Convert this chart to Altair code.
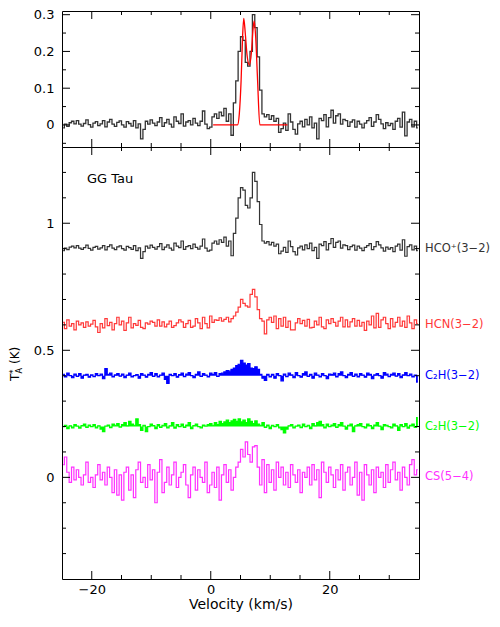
import altair as alt
import pandas as pd

FONT = "DejaVu Sans"

# channel grid (km/s): centre of first channel and channel width
V0 = -24.8
DV = 0.4

# spectra in mK (baseline removed), one value per channel, 150 channels
hco_mK = [-8, 2, -4, 6, 10, 3, 12, 2, -3, 4, 14, 1, -6,
          5, 9, -2, 3, 12, -5, 8, 15, 2, -4, 7, 11,
          0, -6, 9, 4, -3, 12, -8, 3, -38, -12, 10, 2, 14,
          5, -2, 8, 20, -4, 6, 15, 2, -6, 22, 10, 4,
          30, -3, 8, 12, 0, 18, 5, -2, 10, 38, 2, -10, -6,
          22, 30, 18, 35, 25, 45, 10, 30, -28, 60, 120, 200,
          240, 230, 170, 160, 200, 300, 265, 185, 95, 30, 22, 28, 15,
          25, 10, 18, -20, -10, 5, -15, 30, 8, -12, -25, 3,
          10, -5, 15, 0, 22, -8, 5, -38, 18, 12, 28, -5, 20,
          40, 5, 25, 30, 2, 15, 12, -4, 8, 14, -6, 10,
          2, -8, 5, 12, 20, -4, 8, 28, 15, 3, -10, 6, -2,
          4, -12, 10, 18, -6, 35, -30, 8, 15, -5, 10, -8]

hcn_mK = [10, -15, 20, -5, 5, -20, 15, 0, 8, -10, 12, -5, 3,
          18, -8, -30, 5, -12, 25, -3, 10, -20, 5, 30, 0,
          15, -22, 8, 30, -12, 5, -2, 18, -10, -15, 8, 3, 15,
          10, -5, 20, -5, 12, -8, 3, 15, -10, -3, 8, 20,
          12, -10, 5, 18, -10, -5, 25, 8, -15, 30, 5, -12, 35,
          10, 20, 18, 28, 15, 22, 30, 12, 25, 35, 50, 70,
          100, 85, 75, 70, 120, 140, 110, 60, 25, 15, -35, 20, 30,
          10, 35, -15, 25, -5, 30, -10, 15, -20, -20, 8, 25,
          5, 18, -5, 22, -12, -10, 15, 0, 30, -8, -15, 20, 5,
          25, 10, -5, 15, 30, -8, 20, -8, 12, 25, -5, 18,
          -5, 10, -22, 15, 0, 35, -12, 45, -10, 20, 30, 5, -15,
          25, -8, 10, 30, -5, 15, -10, 35, 8, -15, 20, 5]

c2h_a_mK = [5, -5, 10, 0, -8, 6, -3, 8, -10, 2, 5, -6, 3,
            -4, 8, 0, 6, -12, 28, 5, 10, -5, 3, 8, -2,
            6, -8, 2, 10, -5, 0, 4, -10, 8, 2, -6, 5, 12,
            -3, 8, -5, 2, 10, -15, -30, 5, 0, 8, -6, 4,
            10, -4, 6, 12, 0, -8, 5, 15, -3, 8, 2, -5, 10,
            5, 12, -3, 8, 10, 15, 20, 18, 25, 30, 40, 45,
            60, 50, 42, 48, 30, 28, 35, 25, 5, -10, -18, 5, -5,
            5, -10, 8, 0, -20, 6, -4, 10, 3, -8, 12, 0,
            -6, 8, 15, -3, 5, -10, 10, 2, -5, 8, 0, -12, 6,
            4, 10, -5, 8, 15, 0, -8, 5, 12, -3, 6, -5,
            8, 2, -6, 10, 5, -12, 3, 8, 0, -10, 12, 6, -4,
            5, 10, -2, 8, -8, 3, 12, 0, 6, -5, 2, -25]

c2h_b_mK = [0, 5, -8, 3, -5, 8, 2, -6, 4, 10, -3, 6, 0,
            8, -5, 3, -10, -20, 2, 6, -4, 10, 5, 12, -2,
            8, 15, 3, 20, 10, 5, 30, 8, -15, 5, -20, 0, 10,
            4, -8, 8, -3, 5, 12, -5, 3, 15, -6, 8, 0,
            10, -3, 6, 15, -8, 4, 10, 0, -5, 6, 2, 8, 12,
            5, 15, 8, 20, 12, 18, 25, 15, 22, 28, 20, 30,
            18, 25, 15, 30, 20, 12, 22, 10, 5, 15, -3, 6, -8,
            5, 0, 8, -5, -12, -25, -10, 3, 8, -5, 2, 6,
            -4, 10, 0, 5, -8, 12, 3, 15, 20, 8, -5, 10, 0,
            6, 12, -3, 8, 15, 2, -10, 5, 10, -20, 3, 8,
            12, 0, -5, 10, 4, -8, 6, 15, 2, -12, 8, 5, 0,
            -5, 10, 3, -15, 8, 0, 12, -6, 5, 10, -3, 35]

cs_mK = [50, 80, 20, -20, 40, -10, 30, 0, -30, 10, 60, -20, 0,
         -40, 10, 50, -10, 20, -30, 40, 0, -60, 30, -70, 10,
         -90, 20, 40, -50, 10, -80, 30, 60, -20, 0, -40, 50, -10,
         30, -100, 20, 70, -60, -20, 40, -30, 10, 60, -40, 0,
         20, 50, -30, -80, 10, 40, -50, 30, 0, -20, 60, -60, -30,
         20, -40, 40, -90, 10, 50, -20, 30, -50, 0, 40, 60,
         110, 80, 140, 90, 60, 120, 125, 40, -30, 70, -60, 50, -20,
         30, -50, 60, 0, 40, -30, 20, -40, 50, 10, -20, 30,
         -60, 20, 0, 40, -30, 50, -10, 30, -80, 60, 20, -20, 40,
         10, -40, 30, -10, 50, -50, 20, 40, -30, 0, 60, -70,
         20, -90, 50, 10, -30, 30, -60, 40, 0, 20, -40, 50, -20,
         30, 60, -10, 20, -50, 40, 0, -30, 50, 70, 10, 30]

# model fit of HCO+ (top panel)
model_v = [0.4, 4.5, 4.8, 5.1, 5.35, 5.55, 5.8, 6.1, 6.5, 6.85, 7.1, 7.3, 7.55, 7.85, 8.25, 12.9]
model_T = [0, 0, 0.03, 0.12, 0.24, 0.29, 0.25, 0.19, 0.163, 0.2, 0.26, 0.283, 0.24, 0.13, 0, 0]

keys = ["hco", "hcn", "c2h_a", "c2h_b", "cs"]
names = ["HCO⁺(3−2)", "HCN(3−2)", "C₂H(3−2)", "C₂H(3−2)", "CS(5−4)"]
offsets = [0.9, 0.6, 0.4, 0.2, 0.0]
colors = ["#333333", "#ff3838", "#0000ff", "#00ff00", "#ff30ff"]
series = [hco_mK, hcn_mK, c2h_a_mK, c2h_b_mK, cs_mK]

x_major = [-20, 0, 20]
x_minor = [-15, -10, -5, 5, 10, 15, 25, 30]
y1_major = [0, 0.1, 0.2, 0.3]
y1_minor = [-0.05, 0.05, 0.15, 0.25]
y2_major = [0, 0.5, 1]
y2_minor = [-0.3, -0.2, -0.1, 0.1, 0.2, 0.3, 0.4, 0.6, 0.7, 0.8, 0.9, 1.1, 1.2]

for s in series:
    assert len(s) == 150, len(s)

rows = []
for k, off, s in zip(keys, offsets, series):
    for i, val in enumerate(s):
        rows.append({"key": k, "v": V0 + DV * i, "T": val / 1000.0 + off, "base": off})
spec = pd.DataFrame(rows)
top_df = pd.DataFrame({"v": [V0 + DV * i for i in range(150)], "T": [x / 1000.0 for x in hco_mK]})
model_df = pd.DataFrame({"v": model_v, "T": model_T})
label_df = pd.DataFrame({"key": keys, "name": names, "base": offsets})
one = pd.DataFrame({"a": [0]})

W, H1, H2 = 357, 136, 432
xs = alt.Scale(domain=[-25, 35], nice=False, zero=False)
ys1 = alt.Scale(domain=[-0.06, 0.31], nice=False, zero=False)
ys2 = alt.Scale(domain=[-0.4, 1.3], nice=False, zero=False)
cscale = alt.Scale(domain=keys, range=colors)


def tick_layers(ymaj, ymin, ys, H):
    layers = []
    for vals, L in ((x_major, 8), (x_minor, 4)):
        base = alt.Chart(pd.DataFrame({"v": vals})).mark_rule(color="black", strokeWidth=1)
        layers.append(base.encode(x=alt.X("v:Q", scale=xs), y=alt.value(0), y2=alt.value(L)))
        layers.append(base.encode(x=alt.X("v:Q", scale=xs), y=alt.value(H), y2=alt.value(H - L)))
    for vals, L in ((ymaj, 8), (ymin, 4)):
        base = alt.Chart(pd.DataFrame({"T": vals})).mark_rule(color="black", strokeWidth=1)
        layers.append(base.encode(y=alt.Y("T:Q", scale=ys), x=alt.value(0), x2=alt.value(L)))
        layers.append(base.encode(y=alt.Y("T:Q", scale=ys), x=alt.value(W), x2=alt.value(W - L)))
    return layers


top_line = alt.Chart(top_df).mark_line(interpolate="step", color="#333333", strokeWidth=1.3).encode(
    x=alt.X("v:Q", scale=xs, axis=None),
    y=alt.Y("T:Q", scale=ys1, title=None,
            axis=alt.Axis(values=y1_major, format="~g", ticks=False, domain=False, labelPadding=8)),
)
top_model = alt.Chart(model_df).mark_line(interpolate="monotone", color="#ff0000", strokeWidth=1.3).encode(
    x=alt.X("v:Q", scale=xs),
    y=alt.Y("T:Q", scale=ys1),
)
top = alt.layer(top_line, top_model, *tick_layers(y1_major, y1_minor, ys1, H1)).properties(width=W, height=H1)

lines = alt.Chart(spec).mark_line(interpolate="step", strokeWidth=1.2).encode(
    x=alt.X("v:Q", scale=xs, title="Velocity (km/s)",
            axis=alt.Axis(values=x_major, format="~g", ticks=False, domain=False, labelPadding=4,
                          titlePadding=1, titleFontSize=14, titleFontWeight="normal")),
    y=alt.Y("T:Q", scale=ys2, title=None,
            axis=alt.Axis(values=y2_major, format="~g", ticks=False, domain=False, labelPadding=8)),
    color=alt.Color("key:N", scale=cscale, legend=None),
)
fill = alt.Chart(spec).transform_filter(
    alt.FieldOneOfPredicate(field="key", oneOf=["c2h_a", "c2h_b"])
).mark_area(interpolate="step", opacity=1).encode(
    x=alt.X("v:Q", scale=xs),
    y=alt.Y("T:Q", scale=ys2),
    y2="base:Q",
    color=alt.Color("key:N", scale=cscale, legend=None),
)
labels = alt.Chart(label_df).mark_text(align="left", baseline="middle", fontSize=11.5, font=FONT).encode(
    x=alt.value(363),
    y=alt.Y("base:Q", scale=ys2),
    text="name:N",
    color=alt.Color("key:N", scale=cscale, legend=None),
)
gg = alt.Chart(one).mark_text(text="GG Tau", align="left", baseline="middle", fontSize=13, font=FONT,
                              color="black").encode(x=alt.value(25), y=alt.value(32))


def rot(txt, x, y, size):
    return alt.Chart(one).mark_text(text=txt, angle=270, align="left", baseline="alphabetic",
                                    fontSize=size, font=FONT, color="black").encode(x=alt.value(x), y=alt.value(y))


ytitle = [rot("T", -43.5, 234, 12), rot("A", -40.5, 226.5, 8), rot("*", -46, 227, 9), rot("(K)", -43.5, 217, 12)]
anchor = alt.Chart(one).mark_rule(opacity=0).encode(x=alt.value(-53), y=alt.value(100), y2=alt.value(110))

bottom = alt.layer(lines, fill, labels, gg, *ytitle, anchor, *tick_layers(y2_major, y2_minor, ys2, H2)).properties(
    width=W, height=H2)

chart = alt.vconcat(top, bottom, spacing=0, bounds="flush").properties(
    padding={"left": 0, "top": 0, "right": 0, "bottom": 0}
).configure_view(stroke="black", strokeWidth=1).configure_axis(
    labelFont=FONT, labelFontSize=13, labelColor="black", titleFont=FONT, titleColor="black", grid=False
)

chart.save("out.html", embed_options={"renderer": "svg", "actions": False})
